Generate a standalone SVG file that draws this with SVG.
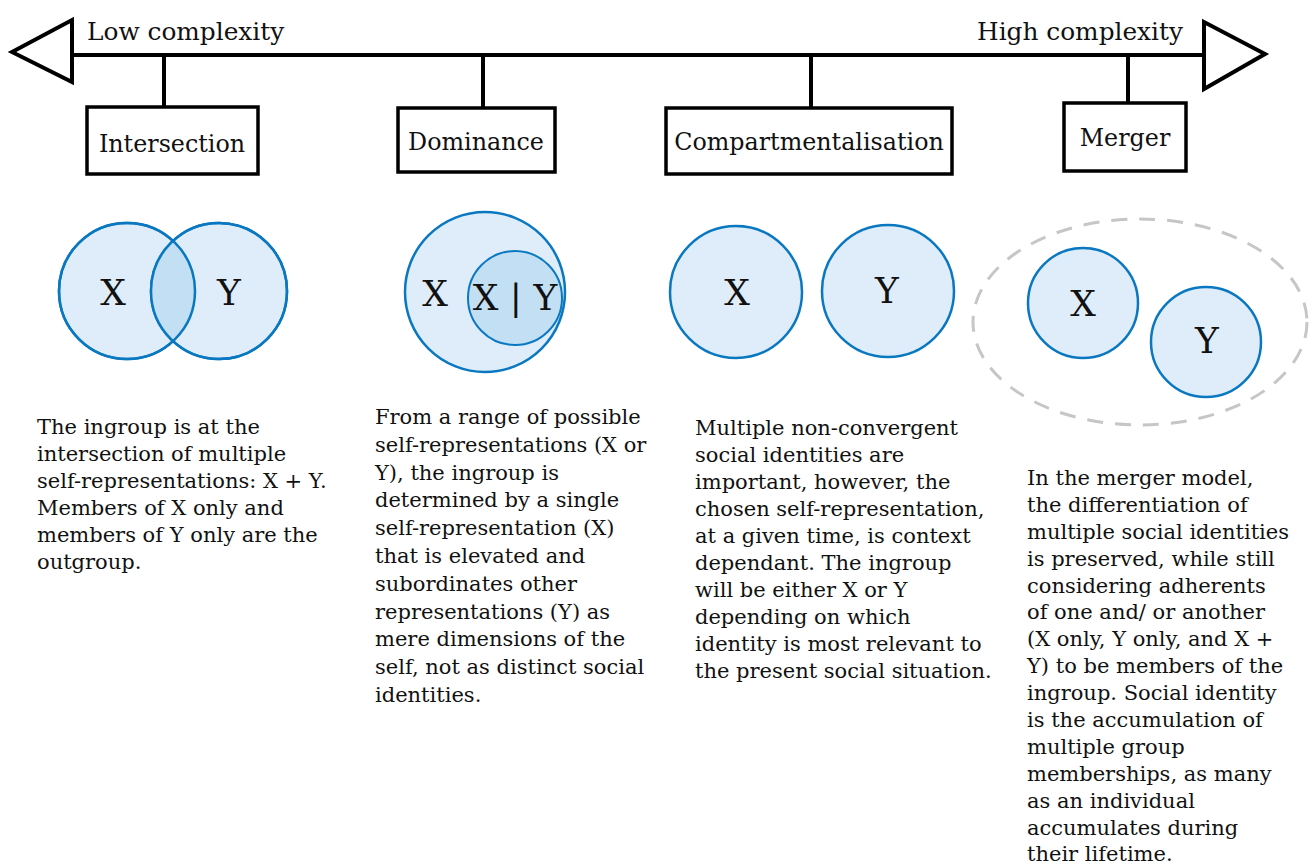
<svg xmlns="http://www.w3.org/2000/svg" width="1312" height="865" viewBox="0 0 1312 865">
<style>
.ax{stroke:#000;stroke-width:4;fill:none;stroke-linejoin:miter}
.box{fill:#fff;stroke:#000;stroke-width:3.5}
.hd{font-family:"DejaVu Serif","Liberation Serif",serif;font-size:24.8px;fill:#111}
.lbl{font-family:"DejaVu Serif","Liberation Serif",serif;font-size:23.8px;fill:#111;text-anchor:middle}
.c{fill:#deedf9;stroke:#0a78c0;stroke-width:2.5}
.cd{fill:#c2dff3;stroke:#0a78c0;stroke-width:2}
.xy{font-family:"DejaVu Serif","Liberation Serif",serif;font-size:36px;fill:#111;text-anchor:middle;dominant-baseline:central}
.t{font-family:"DejaVu Serif","Liberation Serif",serif;font-size:21px;fill:#111}
</style>
<g id="axis">
<line class="ax" x1="72" y1="55" x2="1205" y2="55"/>
<polygon class="ax" points="12,52 72,20 72,82"/>
<polygon class="ax" points="1265,54 1204,22 1204,89"/>
<text class="hd" x="87" y="40">Low complexity</text>
<text class="hd" x="1183" y="40" text-anchor="end">High complexity</text>
</g>
<g id="connectors">
<line class="ax" x1="164" y1="55" x2="164" y2="107"/>
<line class="ax" x1="483" y1="55" x2="483" y2="108"/>
<line class="ax" x1="811" y1="55" x2="811" y2="108"/>
<line class="ax" x1="1128" y1="55" x2="1128" y2="103"/>
</g>
<g id="intersection">
<rect class="box" x="87" y="107" width="171" height="67"/>
<text class="lbl" x="172" y="152">Intersection</text>
<circle class="c" cx="127" cy="291" r="68"/>
<circle class="c" cx="219" cy="291" r="68"/>
<path d="M173,241.1 A68,68 0 0 1 173,340.9 A68,68 0 0 1 173,241.1 Z" fill="#c2dff3" stroke="none"/>
<circle cx="127" cy="291" r="68" fill="none" stroke="#0a78c0" stroke-width="2.5"/>
<circle cx="219" cy="291" r="68" fill="none" stroke="#0a78c0" stroke-width="2.5"/>
<text class="xy" x="113" y="292">X</text>
<text class="xy" x="229" y="292">Y</text>
</g>
<g id="dominance">
<rect class="box" x="398" y="108" width="157" height="64"/>
<text class="lbl" x="476" y="150">Dominance</text>
<circle class="c" cx="485" cy="292" r="80" stroke-width="3.5"/>
<circle class="cd" cx="515" cy="298" r="47"/>
<text class="xy" x="435" y="293" font-size="31">X</text>
<text class="xy" x="515" y="297" font-size="29">X | Y</text>
</g>
<g id="compartmentalisation">
<rect class="box" x="666" y="108" width="286" height="66"/>
<text class="lbl" x="809" y="150">Compartmentalisation</text>
<circle class="c" cx="736" cy="292" r="66"/>
<circle class="c" cx="888" cy="291" r="66"/>
<text class="xy" x="737" y="292" font-size="40">X</text>
<text class="xy" x="887" y="290" font-size="40">Y</text>
</g>
<g id="merger">
<rect class="box" x="1064" y="103" width="122" height="68"/>
<text class="lbl" x="1125" y="146">Merger</text>
<ellipse cx="1140" cy="322" rx="167" ry="103" fill="none" stroke="#c6c6c6" stroke-width="3" stroke-dasharray="16 12"/>
<circle class="c" cx="1083" cy="303" r="55"/>
<circle class="c" cx="1206" cy="342" r="55"/>
<text class="xy" x="1083" y="303" font-size="32">X</text>
<text class="xy" x="1207" y="340" font-size="32">Y</text>
</g>
<g id="desc-intersection">
<text class="t">
<tspan x="37" y="434">The ingroup is at the</tspan>
<tspan x="37" y="461">intersection of multiple</tspan>
<tspan x="37" y="488">self-representations: X + Y.</tspan>
<tspan x="37" y="515">Members of X only and</tspan>
<tspan x="37" y="542">members of Y only are the</tspan>
<tspan x="37" y="569">outgroup.</tspan>
</text>
</g>
<g id="desc-dominance">
<text class="t">
<tspan x="375" y="424">From a range of possible</tspan>
<tspan x="375" y="452">self-representations (X or</tspan>
<tspan x="375" y="480">Y), the ingroup is</tspan>
<tspan x="375" y="507">determined by a single</tspan>
<tspan x="375" y="535">self-representation (X)</tspan>
<tspan x="375" y="563">that is elevated and</tspan>
<tspan x="375" y="591">subordinates other</tspan>
<tspan x="375" y="619">representations (Y) as</tspan>
<tspan x="375" y="646">mere dimensions of the</tspan>
<tspan x="375" y="674">self, not as distinct social</tspan>
<tspan x="375" y="702">identities.</tspan>
</text>
</g>
<g id="desc-compartmentalisation">
<text class="t">
<tspan x="695" y="435">Multiple non-convergent</tspan>
<tspan x="695" y="462">social identities are</tspan>
<tspan x="695" y="489">important, however, the</tspan>
<tspan x="695" y="516">chosen self-representation,</tspan>
<tspan x="695" y="543">at a given time, is context</tspan>
<tspan x="695" y="570">dependant. The ingroup</tspan>
<tspan x="695" y="597">will be either X or Y</tspan>
<tspan x="695" y="624">depending on which</tspan>
<tspan x="695" y="651">identity is most relevant to</tspan>
<tspan x="695" y="678">the present social situation.</tspan>
</text>
</g>
<g id="desc-merger">
<text class="t">
<tspan x="1027" y="485">In the merger model,</tspan>
<tspan x="1027" y="512">the differentiation of</tspan>
<tspan x="1027" y="539">multiple social identities</tspan>
<tspan x="1027" y="566">is preserved, while still</tspan>
<tspan x="1027" y="593">considering adherents</tspan>
<tspan x="1027" y="619">of one and/ or another</tspan>
<tspan x="1027" y="646">(X only, Y only, and X +</tspan>
<tspan x="1027" y="673">Y) to be members of the</tspan>
<tspan x="1027" y="700">ingroup. Social identity</tspan>
<tspan x="1027" y="727">is the accumulation of</tspan>
<tspan x="1027" y="754">multiple group</tspan>
<tspan x="1027" y="781">memberships, as many</tspan>
<tspan x="1027" y="808">as an individual</tspan>
<tspan x="1027" y="835">accumulates during</tspan>
<tspan x="1027" y="861">their lifetime.</tspan>
</text>
</g>
</svg>
